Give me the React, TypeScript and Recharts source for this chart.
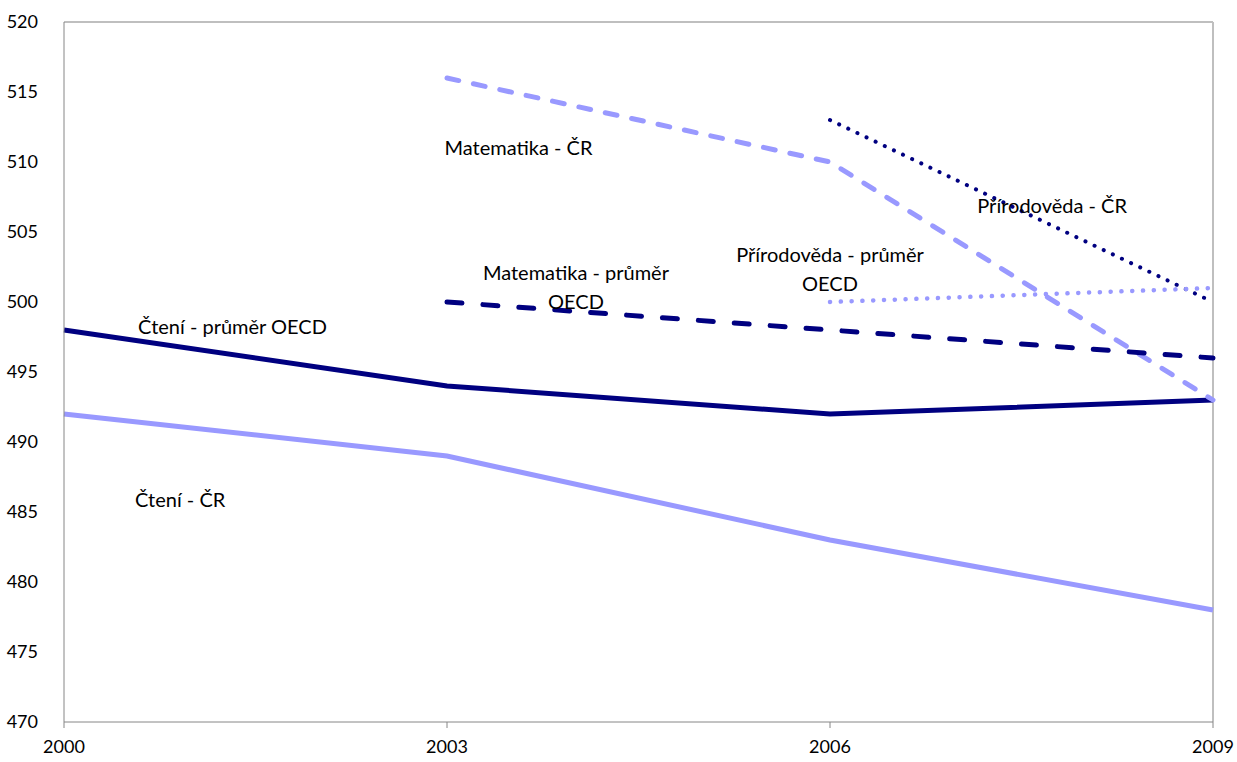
import React from 'react';
import { LineChart, Line, XAxis, YAxis, ReferenceLine, ReferenceDot } from 'recharts';

const years = [2000, 2003, 2006, 2009];
const cteniCR = [492, 489, 483, 478];
const cteniOECD = [498, 494, 492, 493];
const matCR = [null, 516, 510, 493];
const matOECD = [null, 500, 498, 496];
const prirCR = [null, null, 513, 500];
const prirOECD = [null, null, 500, 501];
const yTicks = [470, 475, 480, 485, 490, 495, 500, 505, 510, 515, 520];

// series labels sit inside the plot, placed in data units
const notes = [
  { x: 2003.56, y: 511.1, lines: ['Matematika - ČR'] },
  { x: 2007.74, y: 506.9, lines: ['Přírodověda - ČR'] },
  { x: 2006, y: 502.4, lines: ['Přírodověda - průměr', 'OECD'] },
  { x: 2004.01, y: 501.1, lines: ['Matematika - průměr', 'OECD'] },
  { x: 2001.32, y: 498.3, lines: ['Čtení - průměr OECD'] },
  { x: 2000.91, y: 485.9, lines: ['Čtení - ČR'] },
];

const data = years.map((year, i) => ({
  year,
  cteniCR: cteniCR[i],
  cteniOECD: cteniOECD[i],
  matCR: matCR[i],
  matOECD: matOECD[i],
  prirCR: prirCR[i],
  prirOECD: prirOECD[i],
}));

const FONT = 'Lato, "Open Sans", sans-serif';
const DARK = '#000080';
const LIGHT = '#9999FF';

const NoteLabel = ({ viewBox, lines }: any) => {
  const cx = viewBox.x + (viewBox.width || 0) / 2;
  const cy = viewBox.y + (viewBox.height || 0) / 2;
  const lh = 29;
  const top = cy - ((lines.length - 1) * lh) / 2;
  return (
    <text x={cx} y={top} textAnchor="middle" dominantBaseline="central" fontFamily={FONT} fontSize={20} fill="#000">
      {lines.map((l: string, i: number) => (
        <tspan key={i} x={cx} y={top + i * lh} dominantBaseline="central">{l}</tspan>
      ))}
    </text>
  );
};

export default function App() {
  return (
    <div style={{ position: 'absolute', left: 0, top: 0, background: '#fff' }}>
      <LineChart width={1237} height={762} data={data} margin={{ top: 22, right: 24, left: 0, bottom: 0 }}>
        <XAxis
          dataKey="year"
          type="number"
          domain={[2000, 2009]}
          ticks={years}
          height={40}
          stroke="#868686"
          tickLine={{ stroke: '#868686' }}
          tickSize={6}
          tickMargin={12}
          tick={{ fill: '#000', fontSize: 18, fontFamily: FONT }}
        />
        <YAxis
          domain={[470, 520]}
          ticks={yTicks}
          width={64}
          stroke="#868686"
          tickLine={false}
          tickMargin={20}
          tick={{ fill: '#000', fontSize: 18, fontFamily: FONT }}
        />
        <ReferenceLine y={520} stroke="#BFBFBF" strokeWidth={2} />
        <ReferenceLine x={2009} stroke="#BFBFBF" strokeWidth={2} />
        <Line dataKey="cteniCR" stroke={LIGHT} strokeWidth={5} dot={false} isAnimationActive={false} />
        <Line dataKey="cteniOECD" stroke={DARK} strokeWidth={5} dot={false} isAnimationActive={false} />
        <Line dataKey="matCR" stroke={LIGHT} strokeWidth={5} strokeDasharray="12 15" strokeLinecap="round" dot={false} isAnimationActive={false} />
        <Line dataKey="matOECD" stroke={DARK} strokeWidth={5} strokeDasharray="15 21" strokeLinecap="round" dot={false} isAnimationActive={false} />
        <Line dataKey="prirCR" stroke={DARK} strokeWidth={4} strokeDasharray="0.1 10" strokeLinecap="round" dot={false} isAnimationActive={false} />
        <Line dataKey="prirOECD" stroke={LIGHT} strokeWidth={4.5} strokeDasharray="0.1 10.7" strokeLinecap="round" dot={false} isAnimationActive={false} />
        {notes.map((n, i) => (
          <ReferenceDot key={i} x={n.x} y={n.y} r={0} fill="none" stroke="none" label={<NoteLabel lines={n.lines} />} />
        ))}
      </LineChart>
    </div>
  );
}
